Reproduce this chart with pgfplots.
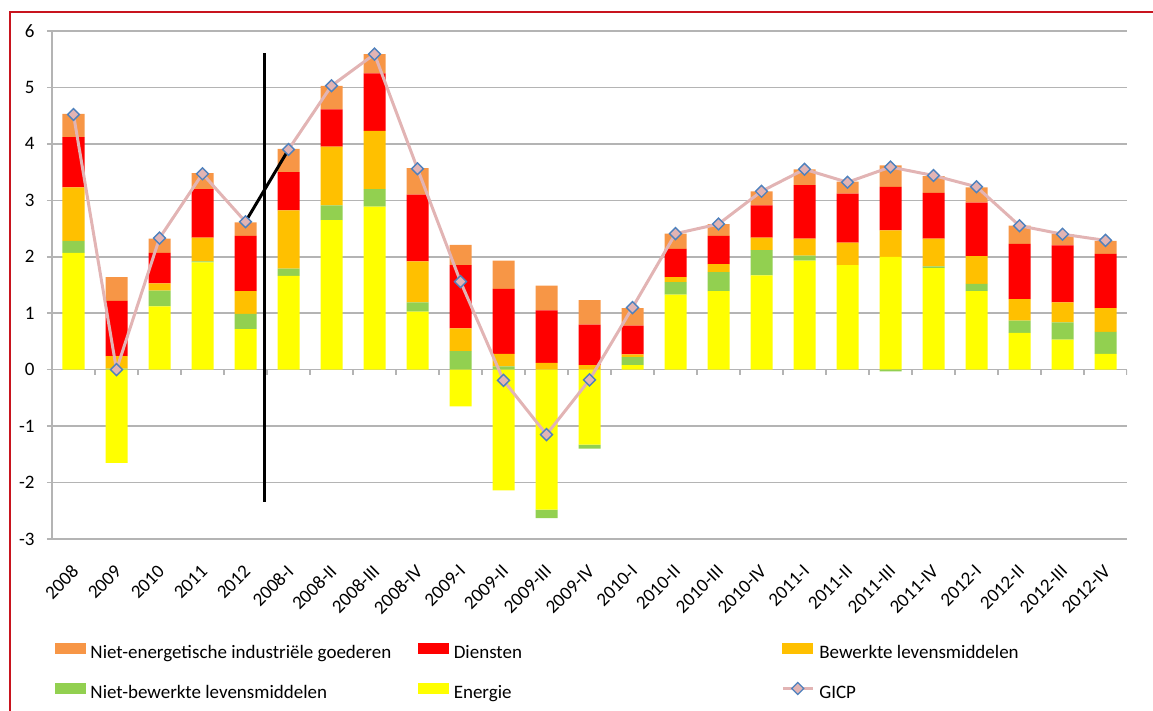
\documentclass[border=0pt]{standalone}
\usepackage{pgfplots}
\pgfplotsset{compat=1.18}
\usepackage{pgfplotstable}
\usepackage{fontspec}
\setmainfont{Carlito}

\definecolor{neig}{RGB}{247,150,70}
\definecolor{dien}{RGB}{255,0,0}
\definecolor{bew}{RGB}{255,192,0}
\definecolor{nb}{RGB}{146,208,80}
\definecolor{ener}{RGB}{255,255,0}
\definecolor{gicpl}{RGB}{226,180,180}
\definecolor{gicpm}{RGB}{79,129,189}
\definecolor{gridc}{RGB}{180,180,180}
\definecolor{frame}{RGB}{200,20,30}

% positive parts (stacked upward)
\pgfplotstableread{
x E N B D O
0 2.07 0.21 0.95 0.89 0.41
1 0 0.02 0.22 0.98 0.42
2 1.12 0.28 0.13 0.54 0.25
3 1.90 0.02 0.42 0.86 0.28
4 0.72 0.27 0.40 0.98 0.24
5 1.66 0.13 1.03 0.68 0.41
6 2.65 0.26 1.04 0.66 0.42
7 2.89 0.31 1.03 1.02 0.34
8 1.03 0.16 0.73 1.18 0.47
9 0 0.33 0.40 1.12 0.36
10 0 0.06 0.22 1.15 0.50
11 0 0 0.12 0.93 0.44
12 0 0 0.08 0.72 0.43
13 0.08 0.14 0.05 0.51 0.31
14 1.33 0.22 0.09 0.50 0.27
15 1.39 0.34 0.14 0.50 0.21
16 1.67 0.45 0.22 0.57 0.25
17 1.93 0.09 0.30 0.95 0.28
18 1.85 0 0.40 0.87 0.21
19 2.00 0 0.47 0.77 0.38
20 1.80 0.03 0.49 0.81 0.30
21 1.39 0.13 0.49 0.95 0.27
22 0.65 0.22 0.38 0.98 0.32
23 0.53 0.31 0.35 1.01 0.20
24 0.28 0.39 0.42 0.96 0.23
}\pos

% negative parts (stacked downward)
\pgfplotstableread{
x E N
1 -1.65 0
9 -0.65 0
10 -2.14 0
11 -2.48 -0.15
12 -1.33 -0.07
19 0 -0.03
}\negt

\pgfplotstableread{
x g
0 4.52
1 0.00
2 2.33
3 3.47
4 2.62
4.5 nan
5 3.90
6 5.03
7 5.59
8 3.56
9 1.56
10 -0.19
11 -1.15
12 -0.18
13 1.10
14 2.41
15 2.58
16 3.16
17 3.55
18 3.32
19 3.59
20 3.44
21 3.24
22 2.55
23 2.40
24 2.29
}\gicp

\pgfplotsset{base/.style={scale only axis, width=537.5pt, height=254pt,
  at={(26pt,86pt)}, anchor=south west,
  xmin=-0.5, xmax=24.5, ymin=-3, ymax=6, enlargelimits=false}}

\begin{document}
\begin{tikzpicture}[x=1pt,y=1pt]
\path[use as bounding box] (0,0) rectangle (576.5,355.5);
\draw[frame, line width=1.2pt] (5,0) -- (5,349.5) -- (577,349.5);

\begin{axis}[base, ybar stacked, bar width=11pt,
  axis x line*=bottom, axis y line*=left,
  x axis line style={draw=none}, y axis line style={gridc, line width=0.75pt},
  xtick={0,...,24},
  xticklabels={2008,2009,2010,2011,2012,2008-I,2008-II,2008-III,2008-IV,2009-I,2009-II,2009-III,2009-IV,2010-I,2010-II,2010-III,2010-IV,2011-I,2011-II,2011-III,2011-IV,2012-I,2012-II,2012-III,2012-IV},
  xtick style={draw=none},
  ytick={-3,...,6}, ytick style={gridc, line width=0.75pt},
  tick align=outside, major tick length=2.5pt,
  ymajorgrids, grid style={gridc, line width=0.75pt},
  ticklabel style={font=\fontsize{9.5}{11}\selectfont, text=black},
  /pgf/number format/assume math mode=true,
  xticklabel style={yshift=-12pt, xshift=1pt, rotate=45, anchor=east, inner sep=0pt},
  yticklabel style={anchor=east, inner sep=0pt, xshift=-6pt},
]
\addplot[fill=ener, draw=none] table[x=x,y=E]{\pos};
\addplot[fill=nb, draw=none] table[x=x,y=N]{\pos};
\addplot[fill=bew, draw=none] table[x=x,y=B]{\pos};
\addplot[fill=dien, draw=none] table[x=x,y=D]{\pos};
\addplot[fill=neig, draw=none] table[x=x,y=O]{\pos};
\pgfplotsinvokeforeach{0.5,1.5,...,24.5}{\draw[gridc, line width=0.75pt] (axis cs:#1,0) -- ([yshift=-2.5pt]axis cs:#1,0);}
\end{axis}

\begin{axis}[base, hide axis, ybar stacked, bar width=11pt]
\addplot[fill=ener, draw=none] table[x=x,y=E]{\negt};
\addplot[fill=nb, draw=none] table[x=x,y=N]{\negt};
\end{axis}

\begin{axis}[base, hide axis, clip=false,
  legend columns=3,
  legend style={at={(rel axis cs:0.0025,-0.2047)}, anchor=north west,
    draw=none, fill=none, inner sep=0pt, outer sep=0pt,
    font=\fontsize{9.5}{11}\selectfont,
    nodes={inner sep=0pt, text height=6.5pt, text depth=2pt},
    row sep=9.5pt,
    /tikz/every odd column/.append style={column sep=2.5pt}},
]
\addplot[gicpl, line width=1.5pt, unbounded coords=jump, forget plot] table[x=x,y=g]{\gicp};
\addplot[black, line width=1.5pt, forget plot] coordinates {(4,2.62) (5,3.90)};
\addplot[black, line width=1.5pt, forget plot] coordinates {(4.45,5.61) (4.45,-2.34)};
\addplot[only marks, mark=square*, mark size=2.1pt,
  mark options={rotate=45, fill=gicpl, draw=gicpm, line width=0.7pt},
  unbounded coords=jump, forget plot] table[x=x,y=g]{\gicp};

\addlegendimage{legend image code/.code={\fill[neig] (0pt,0.5pt) rectangle (15pt,5.5pt);}}
\addlegendentry{\makebox[163.75pt][l]{Niet-energetische industriële goederen}}
\addlegendimage{legend image code/.code={\fill[dien] (0pt,0.5pt) rectangle (15pt,5.5pt);}}
\addlegendentry{\makebox[163.75pt][l]{Diensten}}
\addlegendimage{legend image code/.code={\fill[bew] (0pt,0.5pt) rectangle (15pt,5.5pt);}}
\addlegendentry{\makebox[163.75pt][l]{Bewerkte levensmiddelen}}
\addlegendimage{legend image code/.code={\fill[nb] (0pt,0.5pt) rectangle (15pt,5.5pt);}}
\addlegendentry{\makebox[163.75pt][l]{Niet-bewerkte levensmiddelen}}
\addlegendimage{legend image code/.code={\fill[ener] (0pt,0.5pt) rectangle (15pt,5.5pt);}}
\addlegendentry{\makebox[163.75pt][l]{Energie}}
\addlegendimage{legend image code/.code={\draw[gicpl, line width=1.5pt] (0pt,3pt) -- (15pt,3pt);
  \draw[gicpm, fill=gicpl, line width=0.6pt] (7.5pt,0pt) -- (10.5pt,3pt) -- (7.5pt,6pt) -- (4.5pt,3pt) -- cycle;}}
\addlegendentry{\makebox[163.75pt][l]{GICP}}
\end{axis}
\end{tikzpicture}
\end{document}
